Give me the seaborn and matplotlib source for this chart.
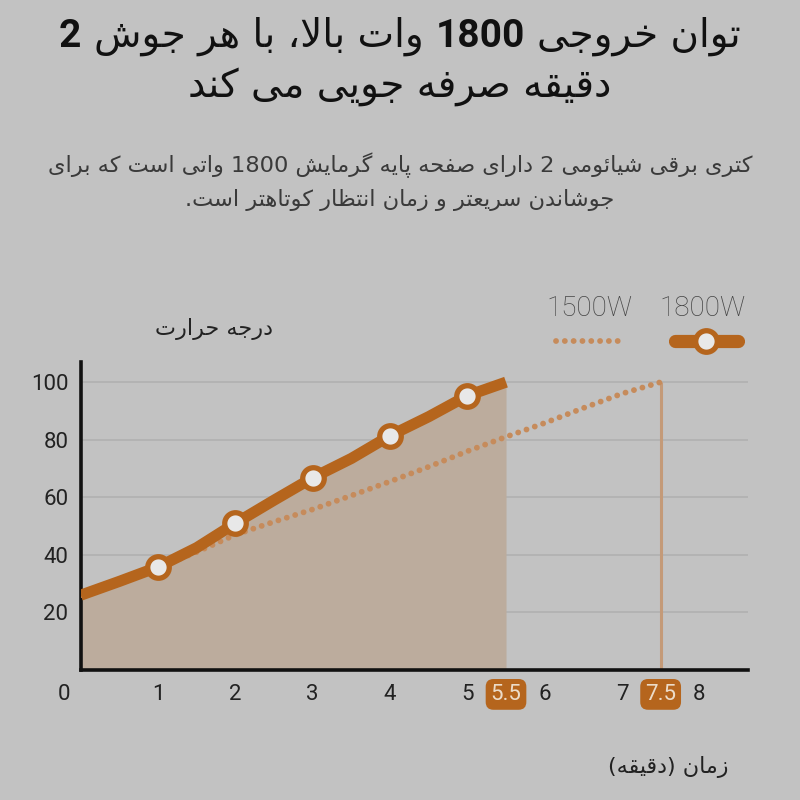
import matplotlib
matplotlib.use("Agg")
import re
import matplotlib.pyplot as plt
import seaborn as sns
import pandas as pd
from matplotlib.lines import Line2D

# ---------------- data ----------------
minutes_1800 = [0, 0.5, 1, 1.5, 2, 2.5, 3, 3.5, 4, 4.5, 5, 5.5]
temp_1800 = [26, 30.8, 35.8, 42.5, 51, 59, 66.8, 73.5, 81.4, 88, 95.3, 100]
marker_minutes = [1, 2, 3, 4, 5]
minutes_1500 = [0, 0.5, 1, 1.5, 2, 2.5, 3, 3.5, 4, 4.5, 5, 5.5, 6, 6.5, 7, 7.5]
temp_1500 = [26, 30.8, 35.5, 41, 47, 51.5, 55.8, 60.6, 65.5, 70.6, 76, 81, 85.8, 91, 96, 100]
boil_minutes = [5.5, 7.5]
y_ticks = [20, 40, 60, 80, 100]
x_ticks = [1, 2, 3, 4, 5, 6, 7, 8]
series_labels = ["1500W", "1800W"]

title_line1 = [("توان خروجی", "normal"), ("1800", "bold"), ("وات بالا، با هر جوش", "normal"), ("2", "bold")]
title_line2 = "دقیقه صرفه جویی می کند"
subtitle_line1 = "کتری برقی شیائومی 2 دارای صفحه پایه گرمایش 1800 واتی است که برای"
subtitle_line2 = "جوشاندن سریعتر و زمان انتظار کوتاهتر است."
y_label = "درجه حرارت"
x_label = "زمان (دقیقه)"

# ---------------- Arabic-script shaping + RTL ordering ----------------
F = {
    "\u0627": ("\uFE8D", "\uFE8E", None, None), "\u0622": ("\uFE81", "\uFE82", None, None),
    "\u0623": ("\uFE83", "\uFE84", None, None), "\u0625": ("\uFE87", "\uFE88", None, None),
    "\u0628": ("\uFE8F", "\uFE90", "\uFE91", "\uFE92"), "\u062A": ("\uFE95", "\uFE96", "\uFE97", "\uFE98"),
    "\u062B": ("\uFE99", "\uFE9A", "\uFE9B", "\uFE9C"), "\u062C": ("\uFE9D", "\uFE9E", "\uFE9F", "\uFEA0"),
    "\u062D": ("\uFEA1", "\uFEA2", "\uFEA3", "\uFEA4"), "\u062E": ("\uFEA5", "\uFEA6", "\uFEA7", "\uFEA8"),
    "\u062F": ("\uFEA9", "\uFEAA", None, None), "\u0630": ("\uFEAB", "\uFEAC", None, None),
    "\u0631": ("\uFEAD", "\uFEAE", None, None), "\u0632": ("\uFEAF", "\uFEB0", None, None),
    "\u0633": ("\uFEB1", "\uFEB2", "\uFEB3", "\uFEB4"), "\u0634": ("\uFEB5", "\uFEB6", "\uFEB7", "\uFEB8"),
    "\u0635": ("\uFEB9", "\uFEBA", "\uFEBB", "\uFEBC"), "\u0636": ("\uFEBD", "\uFEBE", "\uFEBF", "\uFEC0"),
    "\u0637": ("\uFEC1", "\uFEC2", "\uFEC3", "\uFEC4"), "\u0638": ("\uFEC5", "\uFEC6", "\uFEC7", "\uFEC8"),
    "\u0639": ("\uFEC9", "\uFECA", "\uFECB", "\uFECC"), "\u063A": ("\uFECD", "\uFECE", "\uFECF", "\uFED0"),
    "\u0641": ("\uFED1", "\uFED2", "\uFED3", "\uFED4"), "\u0642": ("\uFED5", "\uFED6", "\uFED7", "\uFED8"),
    "\u0643": ("\uFED9", "\uFEDA", "\uFEDB", "\uFEDC"), "\u0644": ("\uFEDD", "\uFEDE", "\uFEDF", "\uFEE0"),
    "\u0645": ("\uFEE1", "\uFEE2", "\uFEE3", "\uFEE4"), "\u0646": ("\uFEE5", "\uFEE6", "\uFEE7", "\uFEE8"),
    "\u0647": ("\uFEE9", "\uFEEA", "\uFEEB", "\uFEEC"), "\u0648": ("\uFEED", "\uFEEE", None, None),
    "\u064A": ("\uFEF1", "\uFEF2", "\uFEF3", "\uFEF4"), "\u0626": ("\uFE89", "\uFE8A", "\uFE8B", "\uFE8C"),
    "\u0624": ("\uFE85", "\uFE86", None, None), "\u0629": ("\uFE93", "\uFE94", None, None),
    "\u06CC": ("\uFBFC", "\uFBFD", "\uFBFE", "\uFBFF"), "\u06A9": ("\uFB8E", "\uFB8F", "\uFB90", "\uFB91"),
    "\u06AF": ("\uFB92", "\uFB93", "\uFB94", "\uFB95"), "\u067E": ("\uFB56", "\uFB57", "\uFB58", "\uFB59"),
    "\u0686": ("\uFB7A", "\uFB7B", "\uFB7C", "\uFB7D"), "\u0698": ("\uFB8A", "\uFB8B", None, None),
}
LAM_ALEF = {"\u0627": ("\uFEFB", "\uFEFC"), "\u0622": ("\uFEF5", "\uFEF6"),
            "\u0623": ("\uFEF7", "\uFEF8"), "\u0625": ("\uFEF9", "\uFEFA")}


def _shape_logical(text):
    out = []
    i, n = 0, len(text)
    while i < n:
        c = text[i]
        prev = text[i - 1] if i > 0 else ""
        joins_prev = prev in F and F[prev][2] is not None
        if c == "\u0644" and i + 1 < n and text[i + 1] in LAM_ALEF:
            out.append(LAM_ALEF[text[i + 1]][1 if joins_prev else 0])
            i += 2
            continue
        if c in F:
            iso, fin, ini, med = F[c]
            nxt = text[i + 1] if i + 1 < n else ""
            joins_next = ini is not None and nxt in F
            if joins_prev and joins_next:
                out.append(med)
            elif joins_prev:
                out.append(fin)
            elif joins_next:
                out.append(ini)
            else:
                out.append(iso)
        else:
            out.append(c)
        i += 1
    return "".join(out)


def rtl(text):
    """Shape and reorder a right-to-left line for left-to-right drawing."""
    vis = _shape_logical(text)[::-1]
    vis = re.sub(r"[0-9A-Za-z][0-9A-Za-z.,]*[0-9A-Za-z]|[0-9A-Za-z]", lambda m: m.group(0)[::-1], vis)
    return vis.translate(str.maketrans("()", ")("))


# ---------------- style ----------------
BG = "#c2c2c2"
ORANGE = "#b5651d"
DOT = "#c68b5b"
FILL = "#bcac9d"
VLINE = "#c49a78"
GRID = "#b2b2b2"
FA = ["DejaVu Sans"]
NUM = ["Roboto", "DejaVu Sans"]

sns.set_theme(style="white")
plt.rcParams["font.family"] = NUM
plt.rcParams["figure.facecolor"] = BG
plt.rcParams["axes.facecolor"] = BG

fig = plt.figure(figsize=(8, 8), dpi=100)
ax = fig.add_axes([0.101, 0.1625, 0.834, 0.385])

df1800 = pd.DataFrame({"minute": minutes_1800, "temp": temp_1800})
df1500 = pd.DataFrame({"minute": minutes_1500, "temp": temp_1500})

ax.fill_between(df1800["minute"], df1800["temp"], color=FILL, lw=0, zorder=1)
ax.vlines(boil_minutes[1], 0, df1500["temp"].iloc[-1], color=VLINE, lw=2.2, zorder=2)

DOTSTYLE = (0, (0.01, 1.5))
sns.lineplot(data=df1500, x="minute", y="temp", ax=ax, color=DOT, lw=4.2,
             linestyle=DOTSTYLE, dash_capstyle="round", zorder=3)
mark_idx = [minutes_1800.index(m) for m in marker_minutes]
sns.lineplot(data=df1800, x="minute", y="temp", ax=ax, color=ORANGE, lw=8,
             solid_capstyle="butt", solid_joinstyle="round",
             marker="o", markevery=mark_idx, markersize=15.5, markerfacecolor="#e8e8e8",
             markeredgecolor=ORANGE, markeredgewidth=3.8, zorder=4)

ax.set_xlim(0, 8.63)
ax.set_ylim(0, 107)
for y in y_ticks:
    ax.axhline(y, color=GRID, lw=1.3, zorder=0)

ax.set_yticks(y_ticks)
ax.set_yticklabels([str(v) for v in y_ticks], fontsize=16, color="#222222")
ticks_all = x_ticks + boil_minutes
ax.set_xticks(ticks_all)
ax.set_xticklabels([f"{v:g}" for v in ticks_all], fontsize=16, color="#222222")
ax.tick_params(axis="both", length=0)
ax.tick_params(axis="y", pad=9)
ax.tick_params(axis="x", pad=10)
for lab in ax.get_xticklabels():
    if float(lab.get_text()) in boil_minutes:
        lab.set_color("#ecdcc9")
        lab.set_bbox(dict(boxstyle="round,pad=0.22,rounding_size=0.35", fc=ORANGE, ec="none"))
ax.annotate("0", xy=(0, 0), xycoords="data", xytext=(-12, -17.5), textcoords="offset points",
            ha="center", va="center", fontsize=16, color="#222222", annotation_clip=False)
ax.set_xlabel("")
ax.set_ylabel("")

for side in ["top", "right"]:
    ax.spines[side].set_visible(False)
for side in ["left", "bottom"]:
    ax.spines[side].set_color("#111111")
    ax.spines[side].set_linewidth(2.6)

# legend (handles below labels)
h1500 = Line2D([], [], color=DOT, lw=4.2, linestyle=DOTSTYLE, dash_capstyle="round")
h1800 = Line2D([], [], color=ORANGE, lw=9.5, marker="o", markersize=15.5,
               markerfacecolor="#e8e8e8", markeredgecolor=ORANGE, markeredgewidth=3.8)
leg = fig.legend([h1500, h1800], ["", ""], ncol=2, loc="center",
                 bbox_to_anchor=(647 / 800, 1 - 343 / 800), frameon=False, fontsize=18,
                 handlelength=2.55, handletextpad=0, columnspacing=2.2, numpoints=1)
fig.text(589 / 800, 1 - 309 / 800, series_labels[0], ha="center", va="center",
         fontsize=20, color="#444444", fontweight="light")
fig.text(702 / 800, 1 - 309 / 800, series_labels[1], ha="center", va="center",
         fontsize=20, color="#444444", fontweight="light")

# axis labels
fig.text(214 / 800, 1 - 329 / 800, rtl(y_label), ha="center", va="center",
         fontsize=16, color="#222222", family=FA)
fig.text(668 / 800, 1 - 767 / 800, rtl(x_label), ha="center", va="center",
         fontsize=16, color="#222222", family=FA)

# subtitle
fig.text(0.5, 1 - 172 / 800, rtl(subtitle_line1), ha="center", va="baseline",
         fontsize=16.2, color="#3a3a3a", family=FA)
fig.text(0.5, 1 - 206 / 800, rtl(subtitle_line2), ha="center", va="baseline",
         fontsize=16.2, color="#3a3a3a", family=FA)

# title: mixed weights on line 1, laid out right-to-left
fig.canvas.draw()
r = fig.canvas.get_renderer()
TS = 28
pieces = []
for txt, wt in reversed(title_line1):
    fam = FA if wt == "normal" else NUM
    t = fig.text(0, 1 - 47 / 800, rtl(txt), ha="left", va="baseline", fontsize=TS,
                 fontweight=wt, family=fam, color="#111111")
    pieces.append(t)
probe_a = fig.text(0, 0, "xx", fontsize=TS, family=FA)
probe_b = fig.text(0, 0, "x x", fontsize=TS, family=FA)
space = probe_b.get_window_extent(r).width - probe_a.get_window_extent(r).width
probe_a.remove()
probe_b.remove()
widths = [t.get_window_extent(r).width for t in pieces]
total = sum(widths) + space * (len(pieces) - 1)
W = fig.bbox.width
x = (W - total) / 2
for t, w in zip(pieces, widths):
    t.set_x(x / W)
    x += w + space
fig.text(0.5, 1 - 97 / 800, rtl(title_line2), ha="center", va="baseline",
         fontsize=TS, color="#111111", family=FA)

fig.savefig("out.png", dpi=100, facecolor=BG)
